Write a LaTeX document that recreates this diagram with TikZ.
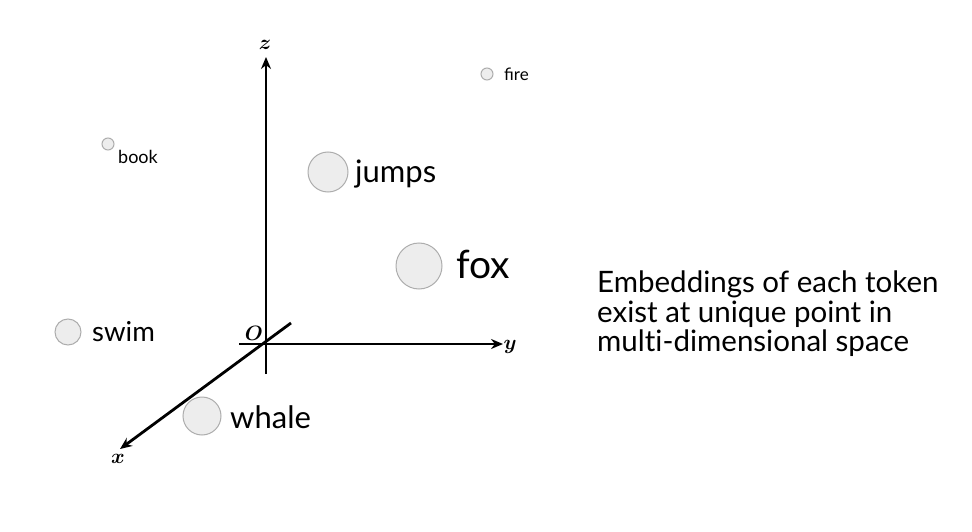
\documentclass[tikz,border=0pt]{standalone}
\usepackage{bm}
\usepackage{fontspec}
\setmainfont{Lato}
\usepackage{tikz}
\usetikzlibrary{positioning,arrows.meta}
\tikzstyle{axisline} = [line width=2.8pt,-{Stealth[length=12pt,width=10pt]}]
\tikzstyle{token} = [circle,draw=black!32,fill=black!7,line width=1pt,inner sep=0pt]
\tikzstyle{word} = [anchor=west,inner sep=0pt]
\tikzstyle{axlabel} = [font=\fontsize{20}{20}\selectfont]

\begin{document}
\begin{tikzpicture}[x=1pt,y=-1pt]
			\useasboundingbox (0, 0) rectangle (972, 532);
			\draw[axisline] (266, 374) -- (266, 57);
			\draw[axisline] (239, 344) -- (503, 344);
			\draw[axisline] (291, 323) -- (120, 449);
			\node[axlabel] (zlab) at (265, 45) {$\bm{z}$};
			\node[axlabel] (ylab) at (510, 347) {$\bm{y}$};
			\node[axlabel] (xlab) at (118, 459) {$\bm{x}$};
			\node[axlabel] (olab) at (254, 333) {$\bm{O}$};
			\node[token, minimum size=38pt] (whale) at (202, 416) {};
			\node[word, font=\fontsize{31}{31}\selectfont] at (230, 417) {whale};
			\node[token, minimum size=26pt] (swim) at (68, 332) {};
			\node[word, font=\fontsize{27.5}{27.5}\selectfont] at (92, 332) {swim};
			\node[token, minimum size=12pt] (book) at (108, 144) {};
			\node[word, font=\fontsize{18}{18}\selectfont] at (118, 157) {book};
			\node[token, minimum size=12pt] (fire) at (487, 74) {};
			\node[word, font=\fontsize{17}{17}\selectfont] at (504, 74) {fire};
			\node[token, minimum size=40pt] (jumps) at (328, 172) {};
			\node[word, font=\fontsize{31}{31}\selectfont] at (355, 174) {jumps};
			\node[token, minimum size=46pt] (fox) at (419, 266) {};
			\node[word, font=\fontsize{39}{39}\selectfont] at (456, 264) {fox};
			\node[anchor=north west, align=left, inner sep=0pt,
				font=\fontsize{29.5}{29.5}\selectfont] (caption) at (597, 271) {
				Embeddings of each token\\
				exist at unique point in\\
				mult\kern0pt i-dimensional space
			};
		\end{tikzpicture}
\end{document}
